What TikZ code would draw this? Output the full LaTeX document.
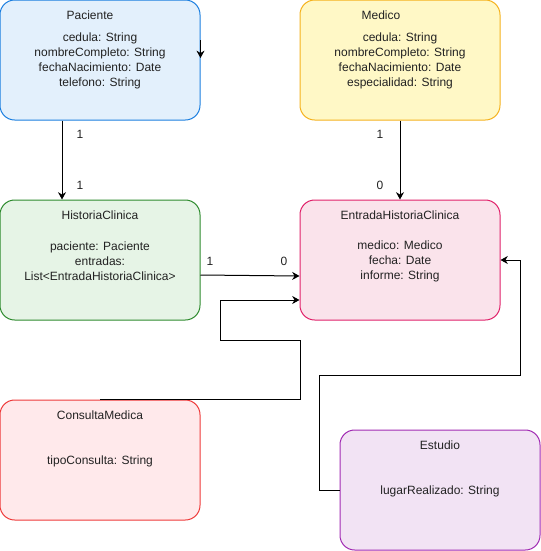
\documentclass[tikz,border=0pt]{standalone}
\usepackage{fontspec}
\setmainfont{Liberation Sans}
\usetikzlibrary{arrows.meta}
\definecolor{pacFill}{HTML}{E3F0FC}\definecolor{pacLine}{HTML}{1C7FE0}
\definecolor{medFill}{HTML}{FFF8C6}\definecolor{medLine}{HTML}{F5B21E}
\definecolor{hcFill}{HTML}{E6F4E6}\definecolor{hcLine}{HTML}{2E8B2E}
\definecolor{entFill}{HTML}{FAE3EB}\definecolor{entLine}{HTML}{E0226A}
\definecolor{cmFill}{HTML}{FFE9EB}\definecolor{cmLine}{HTML}{EE3B3B}
\definecolor{estFill}{HTML}{F2E3F4}\definecolor{estLine}{HTML}{A12BB3}
\definecolor{txt}{HTML}{222222}
\begin{document}
\begin{tikzpicture}[x=0.75pt,y=-0.75pt,
	font=\fontsize{9}{11.25}\selectfont,
	box/.style={draw,line width=0.75pt,rounded corners=11pt,minimum width=150pt,minimum height=90pt,inner sep=0pt},
	txtnode/.style={text=txt,inner sep=0pt,align=center},
	arr/.style={-{Stealth[length=5.5pt,width=6pt]},line width=0.75pt}]
				\useasboundingbox (0,0) rectangle (541,551);
				%boxes
				\node[box,fill=pacFill,draw=pacLine] (pac) at (100,60) {};
				\node[box,fill=medFill,draw=medLine] (med) at (400,60) {};
				\node[box,fill=hcFill,draw=hcLine] (hc) at (100,260) {};
				\node[box,fill=entFill,draw=entLine] (ent) at (400,260) {};
				\node[box,fill=cmFill,draw=cmLine] (cm) at (100,460) {};
				\node[box,fill=estFill,draw=estLine] (est) at (440,490) {};
				%titles
				\node[txtnode] (pacT) at (90,15.5) {Paciente};
				\node[txtnode] (medT) at (381,15.5) {Medico};
				\node[txtnode] (hcT) at (100,215.5) {HistoriaClinica};
				\node[txtnode] (entT) at (400,215.5) {EntradaHistoriaClinica};
				\node[txtnode] (cmT) at (100,415.5) {ConsultaMedica};
				\node[txtnode] (estT) at (440,445.5) {Estudio};
				%attributes
				\node[txtnode] (pacA) at (100,61) {cedula: String\\nombreCompleto: String\\fechaNacimiento: Date\\telefono: String};
				\node[txtnode] (medA) at (400,61) {cedula: String\\nombreCompleto: String\\fechaNacimiento: Date\\especialidad: String};
				\node[txtnode] (hcA) at (100,261.5) {paciente: Paciente\\entradas:\\List<EntradaHistoriaClinica>};
				\node[txtnode] (entA) at (400,261.5) {medico: Medico\\fecha: Date\\informe: String};
				\node[txtnode] (cmA) at (100,461) {tipoConsulta: String};
				\node[txtnode] (estA) at (440,491) {lugarRealizado: String};
				%connectors
				\draw[arr] ([yshift=15pt]pac.east) -- ([yshift=1.5pt]pac.east);
				\draw[arr] ([xshift=-28.5pt]pac.south) -- ([xshift=-28.5pt]hc.north);
				\draw[arr] (med.south) -- (ent.north);
				\draw[arr] ([yshift=-11.25pt]hc.east) -- ([yshift=-12pt]ent.west);
				\draw[arr] (cm.north) -- ++(200,0) |- (220,340) |- ([yshift=-30pt]ent.west);
				\draw[arr] (est.west) -- ++(-20,0) |- (520,375) |- (ent.east);
				%multiplicities
				\node[txtnode] (m1) at (80,134) {1};
				\node[txtnode] (m2) at (80,185) {1};
				\node[txtnode] (m3) at (380,134) {1};
				\node[txtnode] (m4) at (380,185) {0};
				\node[txtnode] (m5) at (210,261) {1};
				\node[txtnode] (m6) at (284,261) {0};
			\end{tikzpicture}
\end{document}
